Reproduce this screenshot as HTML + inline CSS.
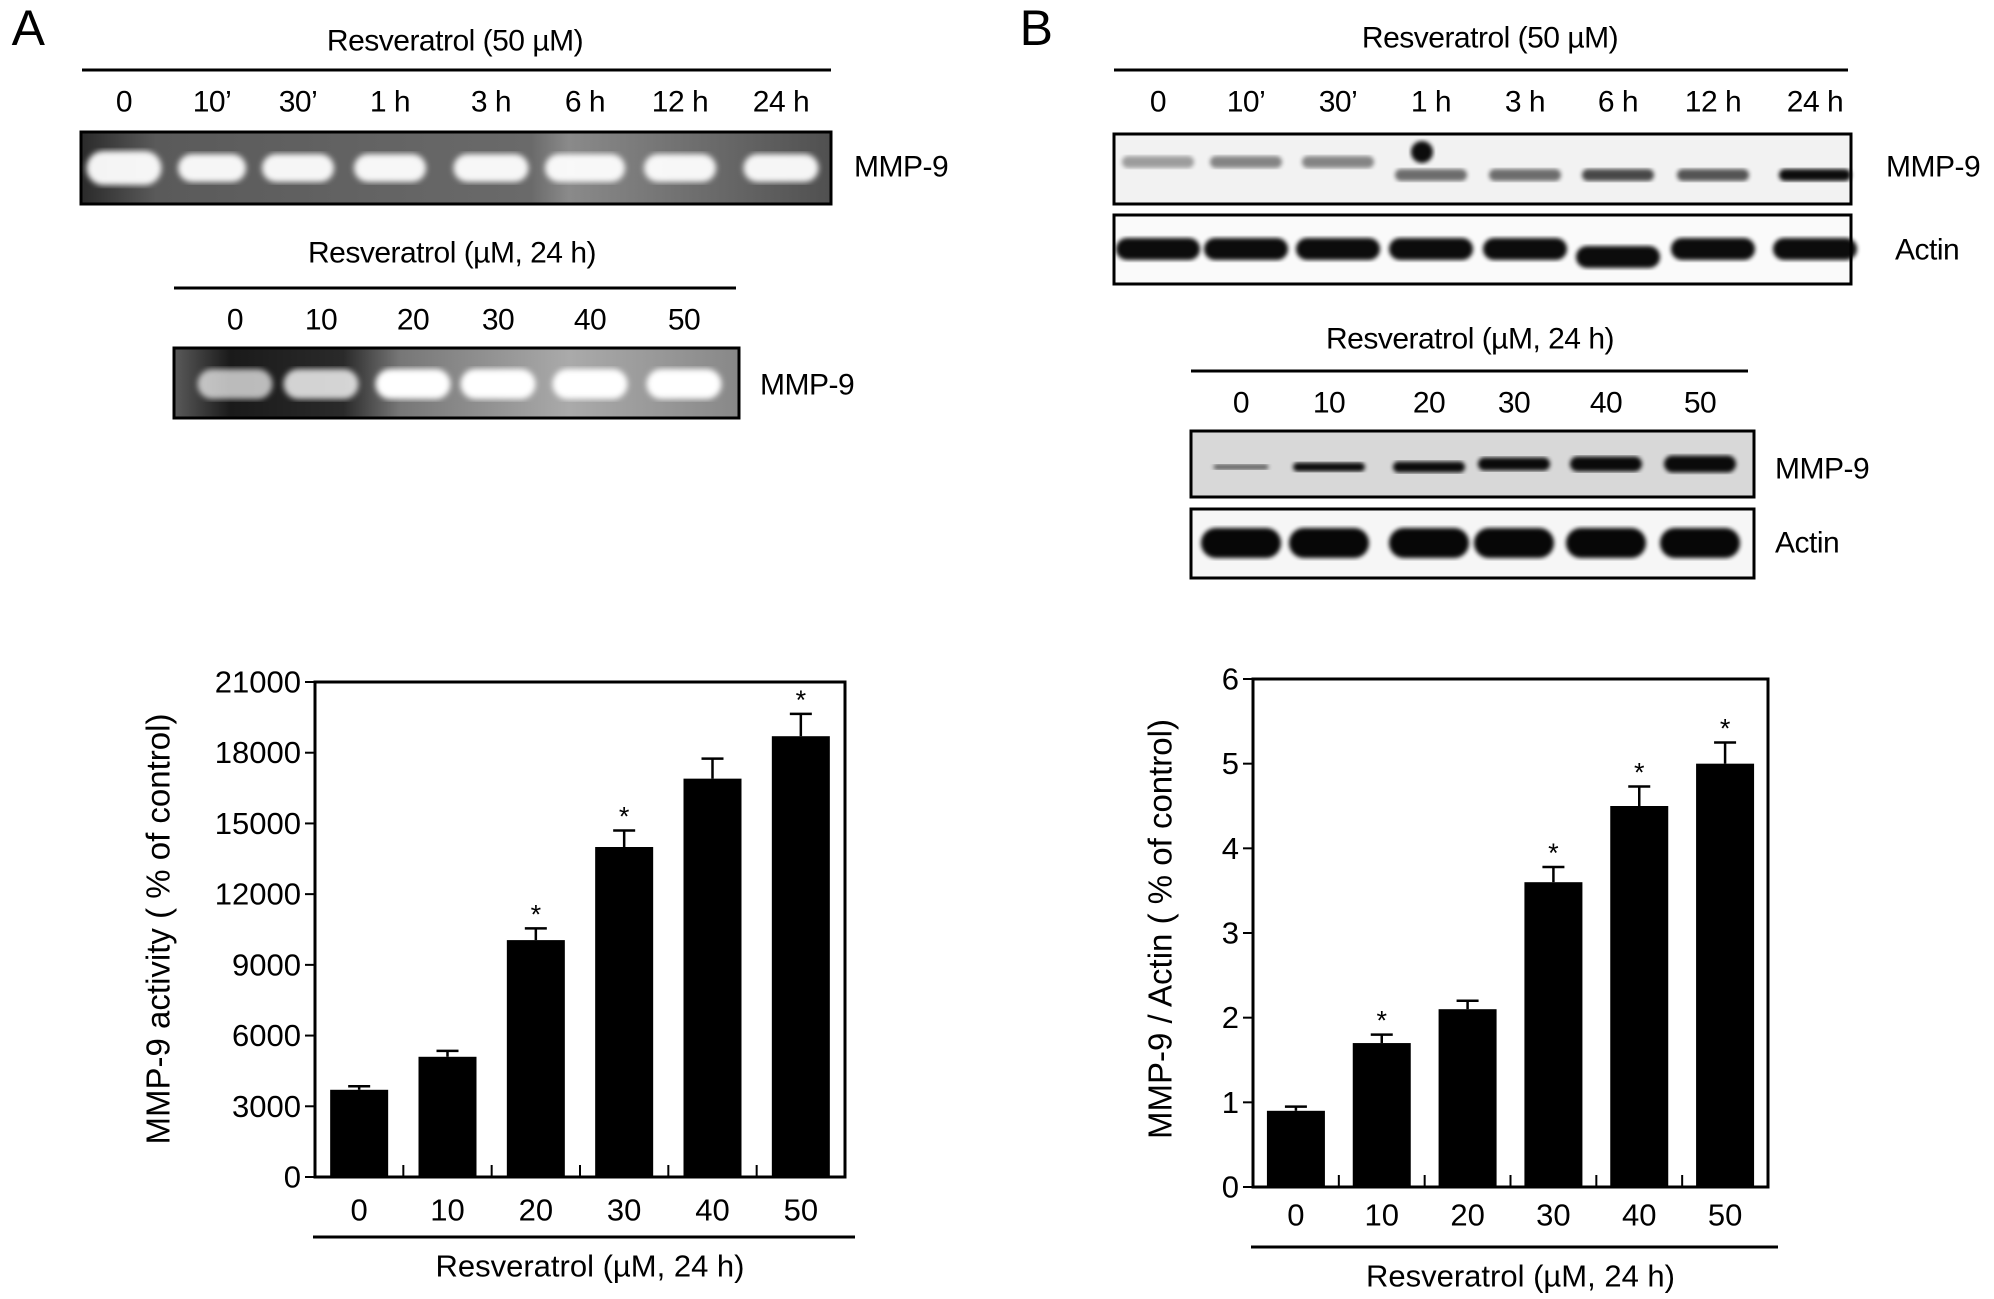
<!DOCTYPE html>
<html><head><meta charset="utf-8"><style>
html,body{margin:0;padding:0;background:#fff;}
svg{display:block;font-family:"Liberation Sans",Arial,sans-serif;}
</style></head><body>
<svg id="fig" width="1994" height="1299" viewBox="0 0 1994 1299" xmlns="http://www.w3.org/2000/svg">
<defs>
<filter id="blur3"><feGaussianBlur stdDeviation="3"/></filter>
<filter id="blur2"><feGaussianBlur stdDeviation="2"/></filter>
<linearGradient id="gelA1" x1="0" x2="1"><stop offset="0" stop-color="#2a2a2a"/><stop offset="0.1" stop-color="#5a5a5a"/><stop offset="0.6" stop-color="#6a6a6a"/><stop offset="0.65" stop-color="#8a8a8a"/><stop offset="1" stop-color="#505050"/></linearGradient>
<linearGradient id="gelA2" x1="0" x2="1"><stop offset="0" stop-color="#5a5a5a"/><stop offset="0.1" stop-color="#1a1a1a"/><stop offset="0.3" stop-color="#2a2a2a"/><stop offset="0.4" stop-color="#777"/><stop offset="0.7" stop-color="#aaa"/><stop offset="1" stop-color="#888"/></linearGradient>
</defs>
<g id="blots"></g>
<g id="chartA"></g>
<g id="chartB"></g>
</svg>
<script>
// ---- chart data ----
const categories = ["0","10","20","30","40","50"];
const valuesA = [3700, 5100, 10050, 14000, 16900, 18700];
const errorsA = [150, 250, 500, 700, 850, 950];
const starsA = [false, false, true, true, false, true];
const ticksA = [0,3000,6000,9000,12000,15000,18000,21000];
const valuesB = [0.9, 1.7, 2.1, 3.6, 4.5, 5.0];
const errorsB = [0.05, 0.1, 0.1, 0.18, 0.23, 0.25];
const starsB = [false, true, false, true, true, true];
const ticksB = [0,1,2,3,4,5,6];
const timeLabels = ["0","10\u2019","30\u2019","1 h","3 h","6 h","12 h","24 h"];

const NS="http://www.w3.org/2000/svg";
function mk(tag, attrs, parent, text){
  const e=document.createElementNS(NS,tag);
  for(const k in attrs) e.setAttribute(k, attrs[k]);
  if(text!==undefined) e.textContent=text;
  parent.appendChild(e); return e;
}
const blots=document.getElementById('blots');

function label(x,y,txt,size,anchor,name,parent){
  const t=mk('text',{x:x,y:y,'font-size':size,'text-anchor':anchor||'middle','dominant-baseline':'central',fill:'#000','letter-spacing':'-0.5'},parent||blots,txt);
  
  
  return t;
}
function hline(x1,x2,y,parent){
  const l=mk('line',{x1:x1,x2:x2,y1:y,y2:y,stroke:'#000','stroke-width':3},parent||blots);
  
  
}
function box(x,y,w,h,fill,name){
  const r=mk('rect',{x:x,y:y,width:w,height:h,fill:fill,stroke:'#000','stroke-width':3},blots);
  
  
}
function band(cx,cy,w,h,color,opacity,blur){
  const e=mk('rect',{x:cx-w/2,y:cy-h/2,width:w,height:h,rx:h/2,ry:h/2,fill:color,opacity:opacity,filter:'url(#'+(blur||'blur3')+')'},blots);
  
  
}

label(28,28,"A",50,'middle','panel-a-label');
label(1036,28,"B",50,'middle','panel-b-label');

// ---- Panel A zymograms ----
label(455,41,"Resveratrol (50 \u00b5M)",30,'middle','gel-a1-title');
hline(82,831,70);
const xA1=[124,212,298,390,491,585,680,781];
timeLabels.forEach((t,i)=>label(xA1[i],102,t,30,'middle','lane-label'));
box(81,132,750,72,'url(#gelA1)','gel-a1');
const bwA1=[75,68,72,72,75,80,72,75];
xA1.forEach((x,i)=>band(x,168,bwA1[i],i==0?34:28,'#fff',0.95));
label(854,167,"MMP-9",30,'start','mmp9-label');

label(452,253,"Resveratrol (\u00b5M, 24 h)",30,'middle','gel-a2-title');
hline(174,736,288);
const xA2=[235,321,413,498,590,684];
categories.forEach((t,i)=>label(xA2[i],320,t,30,'middle','lane-label'));
box(174,348,565,70,'url(#gelA2)','gel-a2');
const opA2=[0.7,0.8,1,1,1,1];
xA2.forEach((x,i)=>band(x,384,75,30,'#fff',opA2[i]));
label(760,385,"MMP-9",30,'start','mmp9-label');

// ---- Panel B westerns ----
label(1490,38,"Resveratrol (50 \u00b5M)",30,'middle','blot-b1-title');
hline(1114,1848,70);
const xB1=[1158,1246,1338,1431,1525,1618,1713,1815];
timeLabels.forEach((t,i)=>label(xB1[i],102,t,30,'middle','lane-label'));
box(1114,134,737,70,'#f2f2f2','blot-b1-mmp9');
const opB1=[0.35,0.45,0.45,0.55,0.55,0.7,0.65,0.95];
xB1.forEach((x,i)=>band(x,i<3?162:175,72,12,'#000',opB1[i],'blur2'));
band(1422,152,22,22,'#000',0.95,'blur2');
label(1886,167,"MMP-9",30,'start','mmp9-label');
box(1114,215,737,69,'#fafafa','blot-b1-actin');
xB1.forEach((x,i)=>band(x,249+(i==5?8:0),84,22,'#000',0.95,'blur2'));
label(1895,250,"Actin",30,'start','actin-label');

label(1470,339,"Resveratrol (\u00b5M, 24 h)",30,'middle','blot-b2-title');
hline(1191,1748,371);
const xB2=[1241,1329,1429,1514,1606,1700];
categories.forEach((t,i)=>label(xB2[i],403,t,30,'middle','lane-label'));
box(1191,431,563,66,'#d8d8d8','blot-b2-mmp9');
const hB2=[5,9,11,13,15,17];
xB2.forEach((x,i)=>band(x,467-(i>=3?3:0),i==0?55:72,hB2[i],'#000',i==0?0.6:0.95,'blur2'));
label(1775,469,"MMP-9",30,'start','mmp9-label');
box(1191,509,563,69,'#f6f6f6','blot-b2-actin');
xB2.forEach((x,i)=>band(x,543,80,30,'#000',0.97,'blur2'));
label(1775,543,"Actin",30,'start','actin-label');

// ---- bar charts ----
function barChart(g, opt, values, errors, stars, ticks){
  const {left,right,top,bottom,max,titleX,titleY,title,fmt,labOff} = opt;
  const cw=(right-left)/values.length;
  const y=v=>bottom-(v/max)*(bottom-top);
  const xc=i=>left+cw*(i+0.5);
  const frame=mk('rect',{x:left,y:top,width:right-left,height:bottom-top,fill:'none',stroke:'#000','stroke-width':3},g);
  
  
  ticks.forEach(t=>{
    const tl=mk('line',{x1:left-10,x2:left,y1:y(t),y2:y(t),stroke:'#000','stroke-width':2},g);
    
    
    const tx=mk('text',{x:left-14,y:y(t),'font-size':31,'text-anchor':'end','dominant-baseline':'central'},g,fmt(t));
    
    
  });
  for(let i=1;i<values.length;i++){
    const xl=left+cw*i;
    const l=mk('line',{x1:xl,x2:xl,y1:bottom,y2:bottom-12,stroke:'#000','stroke-width':2},g);
    
    
  }
  values.forEach((v,i)=>{
    const bw=58, bx=xc(i)-bw/2;
    const r=mk('rect',{x:bx,y:y(v),width:bw,height:bottom-y(v),fill:'#000'},g);
    
    
    const ey=y(v+errors[i]);
    const e1=mk('line',{x1:xc(i),x2:xc(i),y1:y(v),y2:ey,stroke:'#000','stroke-width':2.5},g);
    
    
    const e2=mk('line',{x1:xc(i)-11,x2:xc(i)+11,y1:ey,y2:ey,stroke:'#000','stroke-width':2.5},g);
    
    
    if(stars[i]){
      const s=mk('text',{x:xc(i),y:ey-5,'font-size':27,'text-anchor':'middle'},g,'*');
      
      
    }
    const xl=mk('text',{x:xc(i),y:bottom+labOff,'font-size':31,'text-anchor':'middle','dominant-baseline':'central'},g,categories[i]);
    
    
  });
  const ul=mk('line',{x1:left-2,x2:right+10,y1:bottom+60,y2:bottom+60,stroke:'#000','stroke-width':3},g);
  
  
  const xt=mk('text',{x:(left+right)/2+10,y:bottom+89,'font-size':31,'text-anchor':'middle','dominant-baseline':'central'},g,'Resveratrol (\u00b5M, 24 h)');
  
  
  const yt=mk('text',{x:0,y:0,'font-size':33,'text-anchor':'middle','dominant-baseline':'central',transform:`translate(${titleX},${titleY}) rotate(-90)`},g,title);
  
  
}
barChart(document.getElementById('chartA'),
  {left:315,right:845,top:682,bottom:1177,max:21000,titleX:158,titleY:929,labOff:33,
   title:'MMP-9 activity ( % of control)',fmt:t=>String(t)},
  valuesA, errorsA, starsA, ticksA);
barChart(document.getElementById('chartB'),
  {left:1253,right:1768,top:679,bottom:1187,max:6,titleX:1160,titleY:929,labOff:28,
   title:'MMP-9 / Actin ( % of control)',fmt:t=>String(t)},
  valuesB, errorsB, starsB, ticksB);
</script>
</body></html>
